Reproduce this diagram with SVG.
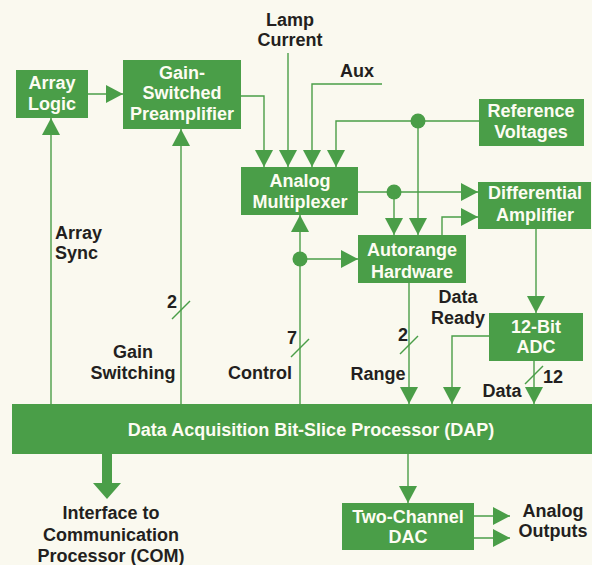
<svg xmlns="http://www.w3.org/2000/svg" width="592" height="565" viewBox="0 0 592 565">
<style>
.box{fill:#4a9e48}
.bt{font-family:"Liberation Sans",Arial,sans-serif;font-weight:bold;font-size:18px;fill:#fdfcf2;text-anchor:middle}
.lt{font-family:"Liberation Sans",Arial,sans-serif;font-weight:bold;font-size:18px;fill:#231f20;text-anchor:middle}
.c{fill:none;stroke:#4a9e48;stroke-width:1.4}
.a{marker-end:url(#ah)}
.dot{fill:#4a9e48}
</style>
<defs>
<marker id="ah" markerUnits="userSpaceOnUse" markerWidth="17" markerHeight="18" viewBox="0 0 17 18" refX="17" refY="9" orient="auto">
<path d="M0,0 L17,9 L0,18 Z" fill="#4a9e48"/>
</marker>
</defs>
<rect width="592" height="565" fill="#faf9ef"/>

<g id="connectors">
<path class="c a" d="M88,94 H123"/>
<path class="c a" d="M51,404 V118"/>
<path class="c a" d="M181,404 V129"/>
<path class="c" d="M172,319 L190,301"/>
<path class="c a" d="M241,96 H264 V167"/>
<path class="c a" d="M288,53 V167"/>
<path class="c a" d="M382,84 H312 V167"/>
<path class="c a" d="M479,121 H336 V167"/>
<circle class="dot" cx="418" cy="121" r="7.5"/>
<path class="c a" d="M418,121 V235"/>
<path class="c a" d="M358,192 H478"/>
<circle class="dot" cx="394" cy="192" r="7.5"/>
<path class="c a" d="M394,192 V235"/>
<path class="c a" d="M442,235 V217 H478"/>
<path class="c a" d="M300,404 V215"/>
<circle class="dot" cx="300" cy="259" r="7.5"/>
<path class="c a" d="M300,259 H358"/>
<path class="c" d="M291,357 L309,339"/>
<path class="c a" d="M536,229 V313"/>
<path class="c a" d="M409,283 V404"/>
<path class="c" d="M400,354 L418,336"/>
<path class="c a" d="M489,336 H452 V404"/>
<path class="c a" d="M534,361 V404"/>
<path class="c" d="M525,384 L543,366"/>
<path class="c a" d="M408,454 V503"/>
<path class="c a" d="M474,516 H510"/>
<path class="c a" d="M474,538 H510"/>
<path d="M102,453 H112 V483 H121 L107,499 L93,483 H102 Z" fill="#4a9e48"/>
</g>

<g id="array-logic">
<rect class="box" x="16" y="70" width="72" height="48"/>
<text class="bt" x="52" y="89">Array</text>
<text class="bt" x="52" y="110">Logic</text>
</g>
<g id="preamplifier">
<rect class="box" x="123" y="60" width="118" height="69"/>
<text class="bt" x="182" y="79">Gain-</text>
<text class="bt" x="182" y="99">Switched</text>
<text class="bt" x="182" y="120">Preamplifier</text>
</g>
<g id="analog-multiplexer">
<rect class="box" x="241" y="167" width="117" height="48"/>
<text class="bt" x="300" y="187">Analog</text>
<text class="bt" x="300" y="208">Multiplexer</text>
</g>
<g id="reference-voltages">
<rect class="box" x="479" y="99" width="105" height="47"/>
<text class="bt" x="531" y="117">Reference</text>
<text class="bt" x="531" y="138">Voltages</text>
</g>
<g id="differential-amplifier">
<rect class="box" x="478" y="182" width="113" height="47"/>
<text class="bt" x="535" y="199">Differential</text>
<text class="bt" x="535" y="221">Amplifier</text>
</g>
<g id="autorange-hardware">
<rect class="box" x="358" y="235" width="108" height="48"/>
<text class="bt" x="412" y="256">Autorange</text>
<text class="bt" x="412" y="278">Hardware</text>
</g>
<g id="adc">
<rect class="box" x="489" y="313" width="94" height="48"/>
<text class="bt" x="536" y="333">12-Bit</text>
<text class="bt" x="536" y="353">ADC</text>
</g>
<g id="dap">
<rect class="box" x="12" y="404" width="580" height="50"/>
<text class="bt" x="311" y="436">Data Acquisition Bit-Slice Processor (DAP)</text>
</g>
<g id="dac">
<rect class="box" x="342" y="503" width="132" height="47"/>
<text class="bt" x="408" y="523">Two-Channel</text>
<text class="bt" x="408" y="543">DAC</text>
</g>

<g id="labels">
<text class="lt" x="290" y="26">Lamp</text>
<text class="lt" x="290" y="46">Current</text>
<text class="lt" x="357" y="77">Aux</text>
<text class="lt" x="55" y="239" style="text-anchor:start">Array</text>
<text class="lt" x="55" y="259" style="text-anchor:start">Sync</text>
<text class="lt" x="172" y="308">2</text>
<text class="lt" x="133" y="358">Gain</text>
<text class="lt" x="133" y="379">Switching</text>
<text class="lt" x="292" y="344">7</text>
<text class="lt" x="260" y="379">Control</text>
<text class="lt" x="403" y="341">2</text>
<text class="lt" x="378" y="380">Range</text>
<text class="lt" x="458" y="303">Data</text>
<text class="lt" x="458" y="324">Ready</text>
<text class="lt" x="502" y="397">Data</text>
<text class="lt" x="553" y="383">12</text>
<text class="lt" x="553" y="517">Analog</text>
<text class="lt" x="553" y="537">Outputs</text>
<text class="lt" x="111" y="519">Interface to</text>
<text class="lt" x="111" y="541">Communication</text>
<text class="lt" x="111" y="562">Processor (COM)</text>
</g>
</svg>
